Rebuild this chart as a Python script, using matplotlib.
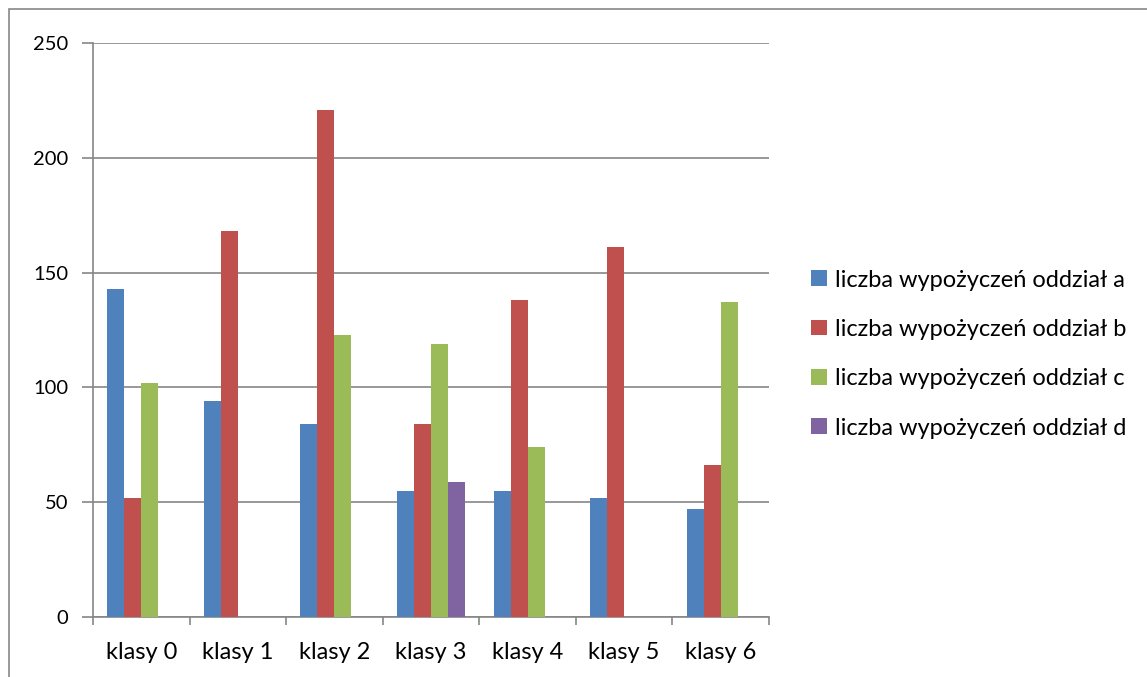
import numpy as np
import matplotlib.pyplot as plt
from matplotlib.patches import Rectangle

plt.rcParams['font.family'] = ['Lato', 'DejaVu Sans']

# Dane
kategorie = ["klasy 0", "klasy 1", "klasy 2", "klasy 3", "klasy 4", "klasy 5", "klasy 6"]
oddzial_a = [143, 94, 84, 55, 55, 52, 47]
oddzial_b = [52, 168, 221, 84, 138, 161, 66]
oddzial_c = [102, 0, 123, 119, 74, 0, 137]
oddzial_d = [0, 0, 0, 59, 0, 0, 0]
etykiety = ["liczba wypożyczeń oddział a", "liczba wypożyczeń oddział b",
            "liczba wypożyczeń oddział c", "liczba wypożyczeń oddział d"]
kolory = ["#4F81BD", "#C0504D", "#9BBB59", "#8064A2"]

serie = [oddzial_a, oddzial_b, oddzial_c, oddzial_d]

fig = plt.figure(figsize=(11.47, 6.77), dpi=100)
ax = fig.add_axes([93 / 1147, 1 - 617 / 677, (769 - 93) / 1147, (617 - 43) / 677])

# ramka wykresu
fig.patches.append(Rectangle((9 / 1147, -0.05), 1.2, 1 - 9 / 677 + 0.05,
                             transform=fig.transFigure, fill=False,
                             edgecolor="#888888", linewidth=1.2))

x = np.arange(len(kategorie))
szer = 0.176
for i, (s, kol, et) in enumerate(zip(serie, kolory, etykiety)):
    ax.bar(x + (i - 1.5) * szer, s, width=szer, color=kol, label=et, zorder=3)

ax.set_ylim(0, 250)
ax.set_xlim(-0.5, len(kategorie) - 0.5)
ax.set_yticks(range(0, 251, 50))
ax.yaxis.grid(True, color="#868686", linewidth=1.2, zorder=0)

ax.set_xticks(np.arange(-0.5, len(kategorie)), labels=[])
ax.set_xticks(x, labels=kategorie, minor=True)
ax.tick_params(axis="x", which="major", length=6, color="#868686", width=1.2)
ax.tick_params(axis="x", which="minor", length=0, pad=18, labelsize=17)
ax.tick_params(axis="y", length=8, color="#868686", width=1.2, pad=10, labelsize=14.5)

for k in ["top", "right"]:
    ax.spines[k].set_visible(False)
for k in ["left", "bottom"]:
    ax.spines[k].set_color("#868686")
    ax.spines[k].set_linewidth(1.2)

leg = ax.legend(loc="center left", bbox_to_anchor=(790 / 1147, 1 - 354 / 677),
                bbox_transform=fig.transFigure, frameon=False, fontsize=17,
                handlelength=0.65, handleheight=0.65, handletextpad=0.35,
                labelspacing=1.2)

plt.savefig("out.png", dpi=100)
